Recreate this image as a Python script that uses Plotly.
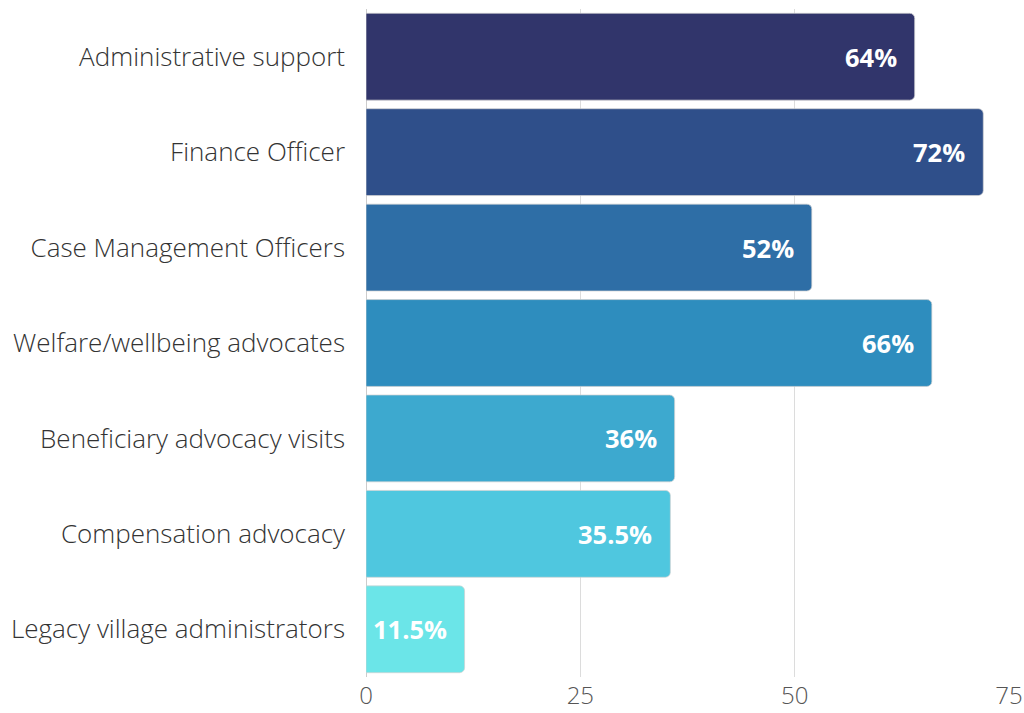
import plotly.graph_objects as go

# data
categories = [
    "Administrative support",
    "Finance Officer",
    "Case Management Officers",
    "Welfare/wellbeing advocates",
    "Beneficiary advocacy visits",
    "Compensation advocacy",
    "Legacy village administrators",
]
values = [64, 72, 52, 66, 36, 35.5, 11.5]
labels = ["64%", "72%", "52%", "66%", "36%", "35.5%", "11.5%"]
colors = ["#31356B", "#2F4F8A", "#2E6EA6", "#2E8DBE", "#3DA9CF", "#4FC7DF", "#6BE5E8"]
x_ticks = [0, 25, 50, 75]

fig = go.Figure()

fig.add_trace(go.Bar(
    x=values,
    y=categories,
    orientation="h",
    marker=dict(color=colors, cornerradius=5,
                line=dict(width=1, color="rgba(210,210,210,0.7)")),
    hoverinfo="x+y",
    showlegend=False,
))

# value labels inside the bar ends
for cat, val, lab in zip(categories, values, labels):
    fig.add_annotation(
        x=val, y=cat, text=f"<b>{lab}</b>",
        xanchor="right", xshift=-16, showarrow=False,
        font=dict(family="Open Sans", size=25.5, color="white"),
    )

fig.update_layout(
    width=1024, height=713,
    margin=dict(l=366, r=15, t=9, b=36),
    paper_bgcolor="white",
    plot_bgcolor="white",
    bargap=0.09,
    font=dict(family="Open Sans", size=26, color="#444"),
    xaxis=dict(
        range=[0, 75],
        tickvals=x_ticks,
        automargin=False,
        showgrid=True, gridcolor="#dcdcdc", gridwidth=1,
        zeroline=True, zerolinecolor="#cccccc", zerolinewidth=1,
        tickfont=dict(size=24, color="#555", weight=300),
        ticks="", ticklen=0, ticklabelstandoff=2,
    ),
    yaxis=dict(
        categoryorder="array",
        categoryarray=categories[::-1],
        automargin=False,
        tickfont=dict(size=26, color="#333", weight=300),
        ticks="", ticklabelstandoff=20,
    ),
)

# drop the page's default body margin so the figure fills the window
fig.write_html("out.html",
               config={"displayModeBar": False},
               post_script="document.body.style.margin='0';document.body.style.overflow='hidden';")
